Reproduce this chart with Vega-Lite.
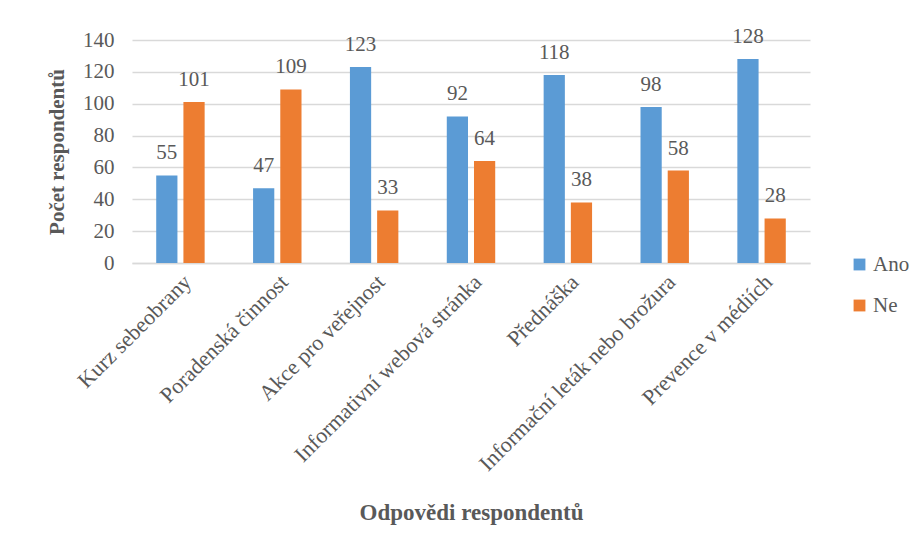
{
  "$schema": "https://vega.github.io/schema/vega-lite/v6.json",
  "width": 678,
  "height": 223,
  "autosize": "none",
  "padding": {"left": 132, "top": 40, "right": 112, "bottom": 286},
  "background": "white",
  "config": {
    "font": "Liberation Serif",
    "view": {"stroke": null},
    "axis": {"labelFont": "Liberation Serif", "titleFont": "Liberation Serif"},
    "legend": {"labelFont": "Liberation Serif"},
    "text": {"font": "Liberation Serif"}
  },
  "data": {
    "values": [
      {"kategorie": "Kurz sebeobrany", "odpoved": "Ano", "pocet": 55},
      {"kategorie": "Kurz sebeobrany", "odpoved": "Ne", "pocet": 101},
      {"kategorie": "Poradenská činnost", "odpoved": "Ano", "pocet": 47},
      {"kategorie": "Poradenská činnost", "odpoved": "Ne", "pocet": 109},
      {"kategorie": "Akce pro veřejnost", "odpoved": "Ano", "pocet": 123},
      {"kategorie": "Akce pro veřejnost", "odpoved": "Ne", "pocet": 33},
      {"kategorie": "Informativní webová stránka", "odpoved": "Ano", "pocet": 92},
      {"kategorie": "Informativní webová stránka", "odpoved": "Ne", "pocet": 64},
      {"kategorie": "Přednáška", "odpoved": "Ano", "pocet": 118},
      {"kategorie": "Přednáška", "odpoved": "Ne", "pocet": 38},
      {"kategorie": "Informační leták nebo brožura", "odpoved": "Ano", "pocet": 98},
      {"kategorie": "Informační leták nebo brožura", "odpoved": "Ne", "pocet": 58},
      {"kategorie": "Prevence v médiích", "odpoved": "Ano", "pocet": 128},
      {"kategorie": "Prevence v médiích", "odpoved": "Ne", "pocet": 28}
    ]
  },
  "encoding": {
    "x": {
      "field": "kategorie",
      "type": "nominal",
      "sort": null,
      "scale": {"paddingInner": 0.5, "paddingOuter": 0.25},
      "axis": {
        "title": "Odpovědi respondentů",
        "titleFontSize": 23,
        "titleFontWeight": "bold",
        "titleColor": "#595959",
        "titleY": 238,
        "titleBaseline": "top",
        "labelAngle": -45,
        "labelFontSize": 22,
        "labelColor": "#595959",
        "labelPadding": 8,
        "labelLimit": 400,
        "ticks": false,
        "domainColor": "#d9d9d9",
        "domainWidth": 1.5,
        "grid": false
      }
    },
    "xOffset": {
      "field": "odpoved",
      "type": "nominal",
      "scale": {"paddingInner": 0.22}
    },
    "y": {
      "field": "pocet",
      "type": "quantitative",
      "scale": {"domain": [0, 140]},
      "axis": {
        "title": "Počet respondentů",
        "titleFontSize": 21,
        "titleFontWeight": "bold",
        "titleColor": "#595959",
        "titlePadding": 15,
        "values": [0, 20, 40, 60, 80, 100, 120, 140],
        "labelFontSize": 21,
        "labelColor": "#595959",
        "labelPadding": 18,
        "ticks": false,
        "domain": false,
        "gridColor": "#d9d9d9",
        "gridWidth": 1.5
      }
    }
  },
  "layer": [
    {
      "mark": {"type": "bar"},
      "encoding": {
        "color": {
          "field": "odpoved",
          "type": "nominal",
          "scale": {"domain": ["Ano", "Ne"], "range": ["#5B9BD5", "#ED7D31"]},
          "legend": {
            "title": null,
            "orient": "none",
            "legendX": 717,
            "legendY": 214,
            "symbolType": "square",
            "symbolSize": 140,
            "symbolStrokeWidth": 0,
            "labelFontSize": 21,
            "labelColor": "#595959",
            "labelOffset": 3,
            "rowPadding": 19
          }
        }
      }
    },
    {
      "mark": {"type": "text", "baseline": "alphabetic", "dy": -16, "fontSize": 21, "color": "#595959"},
      "encoding": {
        "text": {"field": "pocet", "type": "quantitative"}
      }
    }
  ]
}
